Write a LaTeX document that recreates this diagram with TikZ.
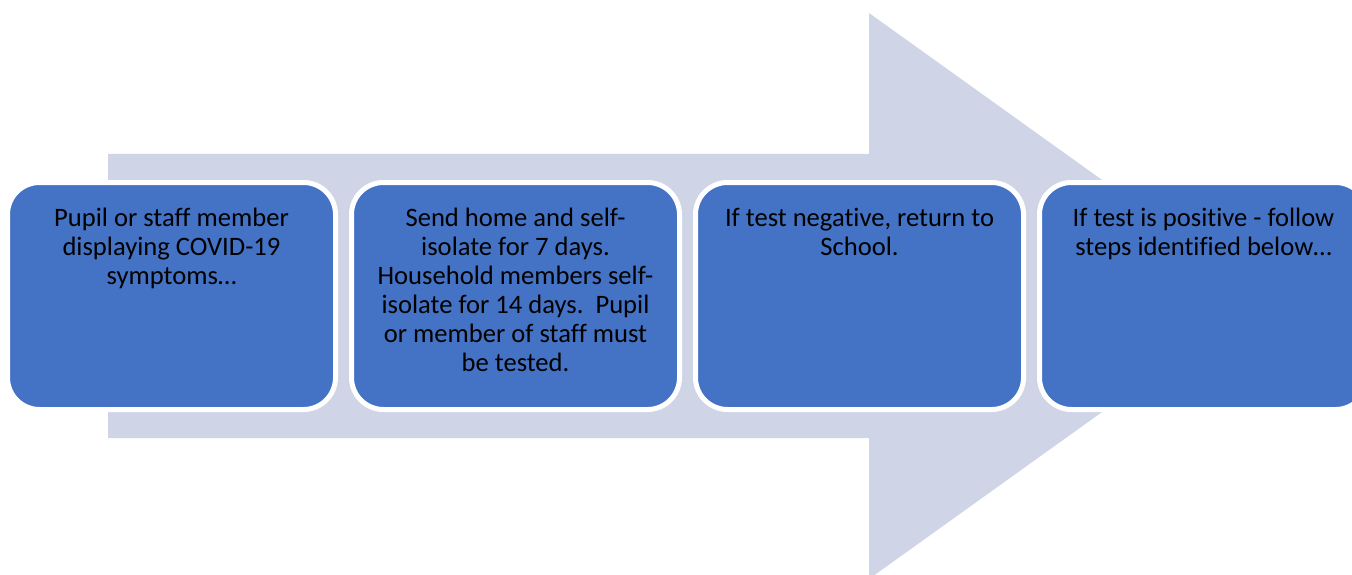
\documentclass[tikz,border=0pt]{standalone}
\usepackage{fontspec}
\setmainfont[Ligatures=NoCommon]{Carlito}
\definecolor{boxblue}{HTML}{4472C4}
\definecolor{arrowgrey}{HTML}{CFD5E7}
\begin{document}
\begin{tikzpicture}[x=1pt,y=-1pt,
  stepbox/.style={rectangle, rounded corners=32pt, minimum width=328pt, minimum height=227pt,
    inner sep=0pt, outer sep=0pt, fill=boxblue, draw=white, line width=5pt, anchor=north west},
  steptext/.style={anchor=north, inner sep=0pt, align=center, text=black,
    font=\fontsize{26.6}{29}\selectfont}]
\useasboundingbox (0,0) rectangle (1352,575);
% big background arrow
\fill[arrowgrey] (108,154) -- (869,154) -- (869,13) -- (1264,296) -- (869,579) -- (869,438) -- (108,438) -- cycle;
% boxes
\node[stepbox] (b1) at (7.5,182.5) {};
\node[stepbox] (b2) at (351.5,182.5) {};
\node[stepbox] (b3) at (695.5,182.5) {};
\node[stepbox] (b4) at (1039.5,182.5) {};
% texts
\node[steptext] (t1) at ([yshift=-25pt]b1.north) {Pupil or staff member\\displaying COVID-19\\symptoms…};
\node[steptext] (t2) at ([yshift=-25pt]b2.north) {Send home and self-\\isolate for 7 days.\\Household members self-\\isolate for 14 days.\ \ Pupil\\or member of staff must\\be tested.};
\node[steptext] (t3) at ([yshift=-25pt]b3.north) {If test negative, return to\\School.};
\node[steptext] (t4) at ([yshift=-25pt]b4.north) {If test is positive - follow\\steps identified below…};
\end{tikzpicture}
\end{document}
